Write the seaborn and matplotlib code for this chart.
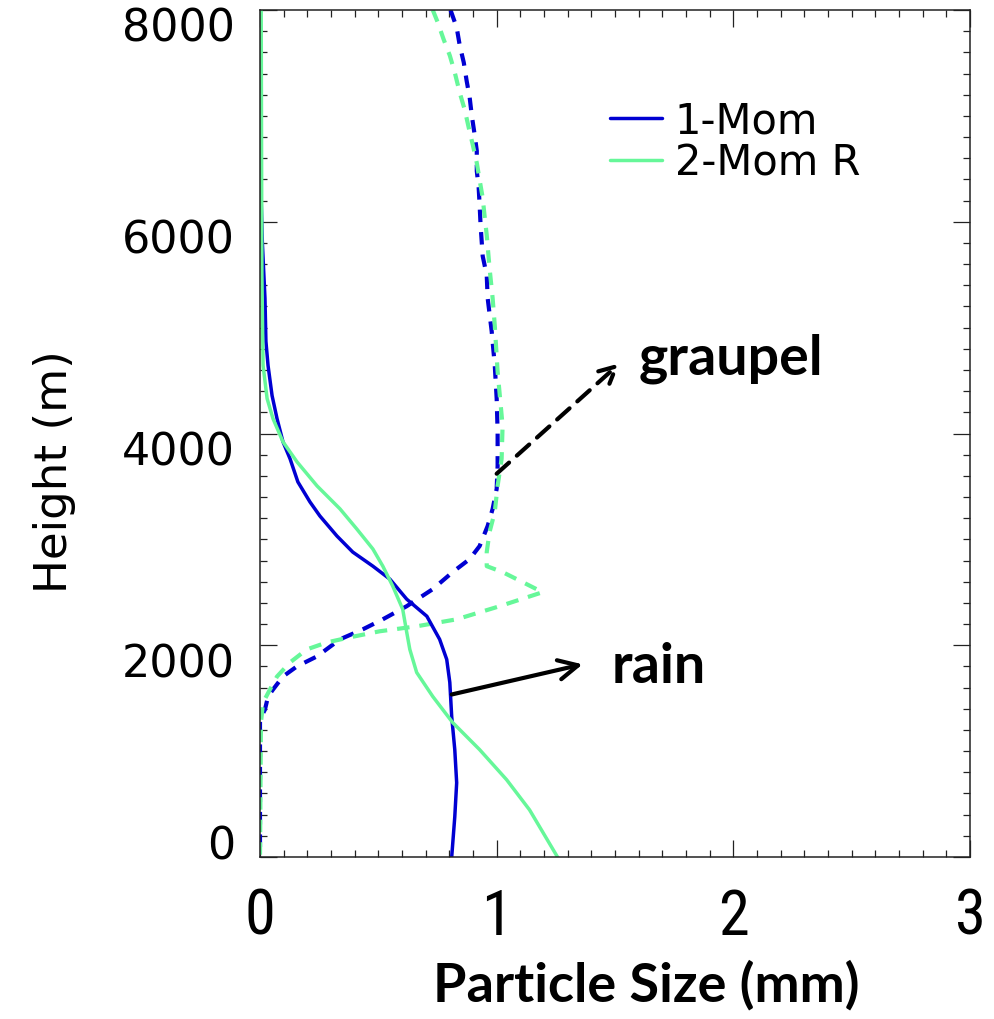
import matplotlib
matplotlib.use("Agg")
import matplotlib.pyplot as plt
import matplotlib.transforms as mtransforms
import seaborn as sns
from matplotlib import font_manager
from matplotlib.ticker import MultipleLocator

# rain, 1-moment (solid blue)
rain_1mom_size = [0.0, 0.0, 0.005, 0.01, 0.021, 0.025, 0.034, 0.051, 0.072, 0.097, 0.127, 0.160,
                  0.211, 0.253, 0.325, 0.392, 0.477, 0.549, 0.620, 0.705, 0.759, 0.789, 0.802,
                  0.810, 0.823, 0.831, 0.823, 0.810]
rain_1mom_height = [8000, 6500, 6200, 5800, 5277, 4870, 4642, 4358, 4140, 3922, 3761, 3543,
                    3354, 3221, 3032, 2880, 2747, 2624, 2435, 2274, 2056, 1866, 1649,
                    1326, 1014, 701, 379, 0]

# rain, 2-moment R (solid green)
rain_2mom_size = [0.005, 0.008, 0.013, 0.030, 0.055, 0.097, 0.156, 0.241, 0.338, 0.409, 0.477,
                  0.519, 0.561, 0.603, 0.620, 0.633, 0.662, 0.730, 0.814, 0.928, 1.042, 1.139, 1.257]
rain_2mom_height = [8000, 5500, 4642, 4330, 4140, 3922, 3733, 3505, 3288, 3098, 2909,
                    2747, 2558, 2340, 2122, 1961, 1743, 1516, 1270, 1014, 730, 445, 0]

# graupel, 1-moment (dashed blue)
graupel_1mom_size = [0.805, 0.831, 0.844, 0.861, 0.873, 0.886, 0.895, 0.907, 0.916, 0.916, 0.924,
                     0.928, 0.932, 0.941, 0.958, 0.962, 0.979, 0.992, 1.000, 1.004, 1.004, 1.000,
                     0.983, 0.962, 0.928, 0.886, 0.814, 0.730, 0.620, 0.519, 0.435, 0.338, 0.241,
                     0.156, 0.097, 0.055, 0.034, 0.021, 0.0, 0.0]
graupel_1mom_height = [8000, 7835, 7665, 7504, 7333, 7172, 7001, 6822, 6670, 6480, 6319,
                       6158, 5969, 5675, 5495, 5277, 4964, 4642, 4330, 4017, 3695, 3477,
                       3288, 3127, 2937, 2814, 2691, 2530, 2369, 2245, 2151, 2056, 1895,
                       1800, 1705, 1582, 1516, 1393, 1300, 0]

# graupel, 2-moment R (dashed green)
graupel_2mom_size = [0.730, 0.751, 0.776, 0.802, 0.823, 0.844, 0.865, 0.882, 0.899, 0.916, 0.928,
                     0.941, 0.949, 0.958, 0.970, 0.983, 0.992, 1.004, 1.025, 1.021, 1.004, 0.992,
                     0.970, 0.958, 0.958, 1.025, 1.110, 1.194, 1.013, 0.831, 0.662, 0.506, 0.380,
                     0.283, 0.198, 0.127, 0.072, 0.042, 0.013, 0.004, 0.0]
graupel_2mom_height = [8000, 7883, 7722, 7570, 7409, 7219, 7058, 6888, 6727, 6556, 6395,
                       6225, 6054, 5874, 5561, 5277, 5021, 4585, 4074, 3761, 3505, 3259,
                       3070, 2880, 2747, 2691, 2596, 2501, 2369, 2245, 2179, 2132, 2075,
                       2027, 1961, 1838, 1705, 1582, 1459, 1270, 0]

legend_labels = ["1-Mom", "2-Mom R"]
blue = "#0000d2"
green = "#66f799"


def pick_font(names, default="DejaVu Sans"):
    have = {f.name for f in font_manager.fontManager.ttflist}
    for n in names:
        if n in have:
            return n
    return default


narrow = pick_font(["Liberation Sans Narrow", "Roboto Condensed", "DejaVu Sans"])
bold_font = pick_font(["Lato", "Open Sans"])

sns.set_style("ticks")
plt.rcParams["font.family"] = ["DejaVu Sans"]
plt.rcParams["text.color"] = "black"
plt.rcParams["axes.labelcolor"] = "black"
plt.rcParams["xtick.color"] = "black"
plt.rcParams["ytick.color"] = "black"

fig = plt.figure(figsize=(9.94, 10.19), dpi=100)
ax = fig.add_axes([260 / 994, 1 - 857 / 1019, 710 / 994, 847 / 1019])

dash = (0, (3.0, 2.4))
sns.lineplot(x=graupel_1mom_size, y=graupel_1mom_height, sort=False, estimator=None,
             color=blue, lw=3.0, linestyle=dash, ax=ax)
sns.lineplot(x=graupel_2mom_size, y=graupel_2mom_height, sort=False, estimator=None,
             color=green, lw=3.0, linestyle=dash, ax=ax)
sns.lineplot(x=rain_1mom_size, y=rain_1mom_height, sort=False, estimator=None,
             color=blue, lw=2.5, label=legend_labels[0], ax=ax)
sns.lineplot(x=rain_2mom_size, y=rain_2mom_height, sort=False, estimator=None,
             color=green, lw=2.5, label=legend_labels[1], ax=ax)

ax.set_xlim(0, 3)
ax.set_ylim(0, 8000)
ax.xaxis.set_major_locator(MultipleLocator(1))
ax.xaxis.set_minor_locator(MultipleLocator(0.1))
ax.yaxis.set_major_locator(MultipleLocator(2000))
ax.yaxis.set_minor_locator(MultipleLocator(200))
ax.tick_params(which="both", direction="in", top=True, right=True, color="#222222", width=0.9)
ax.tick_params(which="major", length=12)
ax.tick_params(which="minor", length=5)
ax.tick_params(axis="y", which="major", labelsize=32, pad=18, labelfontfamily="DejaVu Sans")
ax.tick_params(axis="x", which="major", labelsize=45, pad=22, labelfontfamily=narrow)
for sp in ax.spines.values():
    sp.set_linewidth(1.1)
    sp.set_color("#222222")

# IDL-style: y tick labels sit a bit below their ticks, the 0 a bit above
fig.canvas.draw()
for lab in ax.get_yticklabels():
    dy = 14 if lab.get_text() == "0" else -15
    lab.set_transform(lab.get_transform() + mtransforms.ScaledTranslation(0, dy / 100, fig.dpi_scale_trans))

ax.set_xlabel("")
ax.set_ylabel("")
fig.text(54 / 994, 1 - 472 / 1019, "Height (m)", fontsize=32.5, rotation=90,
         ha="center", va="center")
fig.text(646 / 994, 1 - 985 / 1019, "Particle Size (mm)", fontsize=39, fontweight="bold",
         family=bold_font, ha="center", va="center")

leg = ax.legend(loc="upper left", bbox_to_anchor=(610 / 994, 1 - 100 / 1019),
                bbox_transform=fig.transFigure, frameon=False, fontsize=30,
                handlelength=1.25, handletextpad=0.3, labelspacing=0.0,
                borderpad=0, borderaxespad=0)

ax.annotate("", xy=(1.52, 4663), xytext=(1.0, 3620),
            arrowprops=dict(arrowstyle="->", lw=3, linestyle=(0, (4, 2.5)), color="black",
                            mutation_scale=30, shrinkA=0, shrinkB=0))
ax.annotate("", xy=(1.363, 1820), xytext=(0.81, 1535),
            arrowprops=dict(arrowstyle="->", lw=3, color="black",
                            mutation_scale=35, shrinkA=0, shrinkB=0))
ax.text(1.60, 4710, "graupel", fontsize=40, fontweight="bold", family=bold_font,
        ha="left", va="center")
ax.text(1.485, 1790, "rain", fontsize=40, fontweight="bold", family=bold_font,
        ha="left", va="center")

fig.savefig("out.png", dpi=100)
